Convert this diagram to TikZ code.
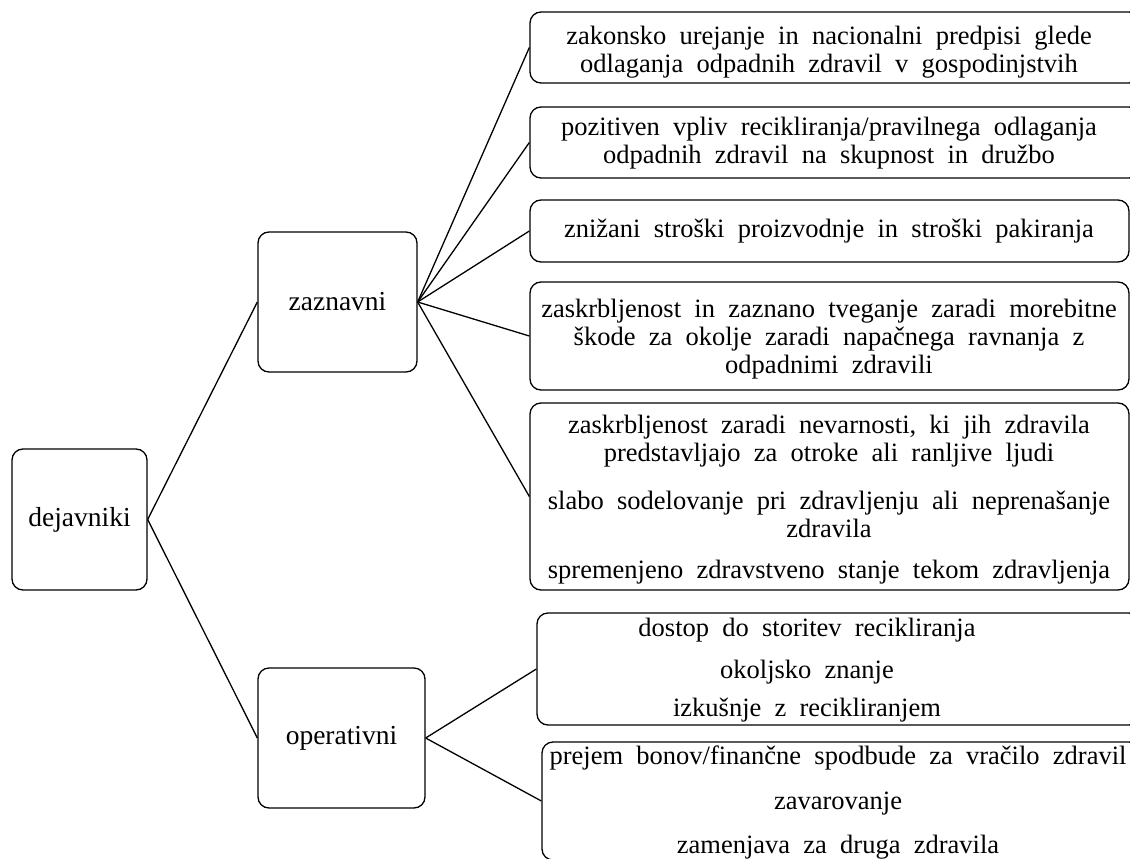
\documentclass[tikz,border=0pt]{standalone}
\usepackage{fontspec}
\setmainfont{Liberation Serif}
\newcommand\mywidesp{\spaceskip=0.5em\relax}
\begin{document}
\begin{tikzpicture}[x=1pt,y=-1pt,
  box/.style={draw, line width=1.3pt, rounded corners=11pt, inner sep=0pt},
  lbox/.style={box, font=\fontsize{27.5}{32}\selectfont},
  txt/.style={align=center, inner sep=0pt, font=\fontsize{26.5}{28}\selectfont, execute at begin node=\mywidesp},
  conn/.style={line width=1.3pt}]
\useasboundingbox (0,0) rectangle (1130,859);
\clip (0,0) rectangle (1130,859);
% left level
\node[lbox, minimum width=135pt, minimum height=141pt] (dej) at (79.5,519.5) {dejavniki};
\node[lbox, minimum width=159pt, minimum height=140pt] (zaz) at (337.5,302) {zaznavni};
\node[lbox, minimum width=167pt, minimum height=140pt] (op) at (341.5,738) {operativni};
% right boxes
\node[box, minimum width=610pt, minimum height=71pt] (b1) at (835,47.5) {};
\node[box, minimum width=610pt, minimum height=71pt] (b2) at (835,142.5) {};
\node[box, minimum width=599pt, minimum height=62pt] (b3) at (829.5,231) {};
\node[box, minimum width=599pt, minimum height=108pt] (b4) at (829.5,336) {};
\node[box, minimum width=599pt, minimum height=187pt] (b5) at (829.5,496.5) {};
\node[box, minimum width=603pt, minimum height=112pt] (b6) at (838.5,669) {};
\node[box, minimum width=598pt, minimum height=118pt] (b7) at (841,801) {};
% texts
\node[txt] (t1) at (829,52) {zakonsko urejanje in nacionalni predpisi glede\\odlaganja odpadnih zdravil v gospodinjstvih};
\node[txt] (t2) at (829,143.5) {pozitiven vpliv recikliranja/pravilnega odlaganja\\odpadnih zdravil na skupnost in družbo};
\node[txt] (t3) at (829,231) {znižani stroški proizvodnje in stroški pakiranja};
\node[txt] (t4) at (829,339) {zaskrbljenost in zaznano tveganje zaradi morebitne\\škode za okolje zaradi napačnega ravnanja z\\odpadnimi zdravili};
\node[txt] (t5) at (829,500) {zaskrbljenost zaradi nevarnosti, ki jih zdravila\\predstavljajo za otroke ali ranljive ljudi\\[20pt]slabo sodelovanje pri zdravljenju ali neprenašanje\\zdravila\\[13pt]spremenjeno zdravstveno stanje tekom zdravljenja};
\node[txt] (t6) at (807,670) {dostop do storitev recikliranja\\[14pt]okoljsko znanje\\[10pt]izkušnje z recikliranjem};
\node[txt] (t7) at (838,803) {prejem bonov/finančne spodbude za vračilo zdravil\\[17pt]zavarovanje\\[16pt]zamenjava za druga zdravila};
% connectors
\draw[conn] (dej.east) -- (zaz.west);
\draw[conn] (dej.east) -- (op.west);
\foreach \b in {b1,b2,b3,b4,b5} \draw[conn] (zaz.east) -- (\b.west);
\draw[conn] (op.east) -- (b6.west);
\draw[conn] (op.east) -- (b7.west);
\end{tikzpicture}
\end{document}
